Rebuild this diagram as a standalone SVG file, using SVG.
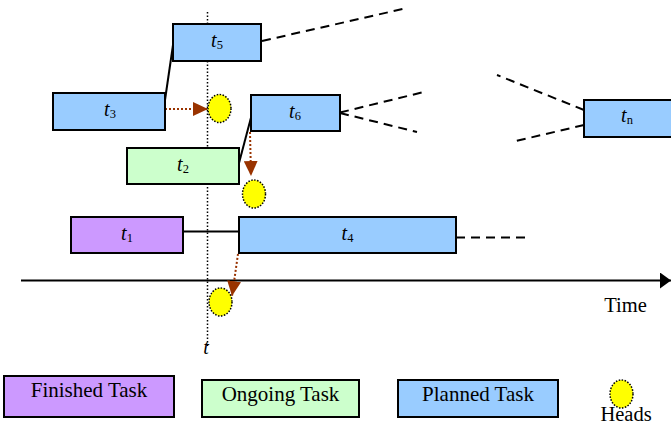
<svg xmlns="http://www.w3.org/2000/svg" width="671" height="428" viewBox="0 0 671 428">
<style>
.box{stroke:#000;stroke-width:2}
.planned{fill:#99CCFF}
.ongoing{fill:#CCFFCC}
.finished{fill:#CC99FF}
.head{fill:#FFFF00;stroke:#000;stroke-width:1.5;stroke-dasharray:1.5 1.5}
.lbl{font-family:"Liberation Serif",serif;font-size:20px;fill:#000}
.it{font-style:italic}
.sub{font-size:12.5px}
.leg{font-family:"Liberation Serif",serif;font-size:21px;fill:#000}
.solid{stroke:#000;stroke-width:2;fill:none}
.dash{stroke:#000;stroke-width:2;stroke-dasharray:9 6;fill:none}
.dot{stroke:#993300;stroke-width:2;stroke-dasharray:2 2;fill:none}
.vdot{stroke:#000;stroke-width:1.5;stroke-dasharray:1.5 2;fill:none}
</style>
<defs>
<marker id="ah" viewBox="0 0 15 14" refX="15" refY="7" markerWidth="15" markerHeight="14" markerUnits="userSpaceOnUse" orient="auto"><path d="M0,0 L15,7 L0,14 z" fill="#993300"/></marker>
<marker id="ax" viewBox="0 0 11 16" refX="11" refY="8" markerWidth="11" markerHeight="16" markerUnits="userSpaceOnUse" orient="auto"><path d="M0,0 L11,8 L0,16 z" fill="#000"/></marker>
</defs>
<rect width="671" height="428" fill="#fff"/>
<g id="timeline">
<line class="vdot" x1="207.5" y1="12" x2="207.5" y2="346"/>
<text class="lbl it" x="206" y="354" text-anchor="middle">t</text>
<line class="solid" x1="21" y1="280.5" x2="671" y2="280.5" marker-end="url(#ax)"/>
<text class="leg" x="625.5" y="311.5" text-anchor="middle" style="font-size:20.5px">Time</text>
</g>
<g id="connectors">
<line class="solid" x1="165" y1="100" x2="173" y2="45"/>
<line class="solid" x1="239" y1="163" x2="253" y2="110"/>
<line class="solid" x1="183" y1="231.5" x2="239" y2="231.5"/>
<line class="dash" x1="262" y1="41" x2="407" y2="8"/>
<line class="dash" x1="340" y1="112.5" x2="424" y2="92"/>
<line class="dash" x1="340" y1="113" x2="417" y2="132"/>
<line class="dash" x1="584" y1="110" x2="497" y2="75"/>
<line class="dash" x1="584" y1="125" x2="516" y2="141"/>
<line class="dash" x1="456" y1="237.5" x2="531" y2="237.5"/>
<line class="dot" x1="165" y1="109" x2="208" y2="109" marker-end="url(#ah)"/>
<line class="dot" x1="250" y1="132" x2="251" y2="176" marker-end="url(#ah)"/>
<line class="dot" x1="238" y1="254" x2="232" y2="296" marker-end="url(#ah)"/>
</g>
<g id="t5"><rect class="box planned" x="173" y="24" width="88" height="37"/><text class="lbl" x="217" y="46.5" text-anchor="middle"><tspan class="it">t</tspan><tspan class="sub" dy="2.5">5</tspan></text></g>
<g id="t3"><rect class="box planned" x="53" y="93" width="112" height="37"/><text class="lbl" x="110" y="115.5" text-anchor="middle"><tspan class="it">t</tspan><tspan class="sub" dy="2.5">3</tspan></text></g>
<g id="t6"><rect class="box planned" x="251" y="95" width="89" height="36"/><text class="lbl" x="295" y="117.5" text-anchor="middle"><tspan class="it">t</tspan><tspan class="sub" dy="2.5">6</tspan></text></g>
<g id="tn"><rect class="box planned" x="584" y="100" width="92" height="37"/><text class="lbl" x="627" y="122" text-anchor="middle"><tspan class="it">t</tspan><tspan class="sub" dy="2">n</tspan></text></g>
<g id="t2"><rect class="box ongoing" x="127" y="148" width="112" height="36"/><text class="lbl" x="183" y="170.5" text-anchor="middle"><tspan class="it">t</tspan><tspan class="sub" dy="2.5">2</tspan></text></g>
<g id="t1"><rect class="box finished" x="71" y="217" width="112" height="36"/><text class="lbl" x="127" y="239.5" text-anchor="middle"><tspan class="it">t</tspan><tspan class="sub" dy="2.5">1</tspan></text></g>
<g id="t4"><rect class="box planned" x="239" y="217" width="217" height="36"/><text class="lbl" x="347.5" y="239.5" text-anchor="middle"><tspan class="it">t</tspan><tspan class="sub" dy="2.5">4</tspan></text></g>
<g id="head1"><ellipse class="head" cx="219.5" cy="108.5" rx="11.5" ry="14"/></g>
<g id="head2"><ellipse class="head" cx="254" cy="194" rx="11.5" ry="14"/></g>
<g id="head3"><ellipse class="head" cx="220.5" cy="302" rx="11.5" ry="14"/></g>
<g id="legend-finished"><rect class="box finished" x="4" y="376" width="170" height="41"/><text class="leg" x="89" y="397" text-anchor="middle">Finished Task</text></g>
<g id="legend-ongoing"><rect class="box ongoing" x="202" y="380" width="157" height="37"/><text class="leg" x="280.5" y="401" text-anchor="middle">Ongoing Task</text></g>
<g id="legend-planned"><rect class="box planned" x="398" y="380" width="160" height="37"/><text class="leg" x="478" y="401" text-anchor="middle">Planned Task</text></g>
<g id="legend-heads"><ellipse class="head" cx="621.5" cy="394" rx="11.5" ry="14"/><text class="leg" x="626" y="421" text-anchor="middle" style="font-size:20.5px">Heads</text></g>
</svg>
